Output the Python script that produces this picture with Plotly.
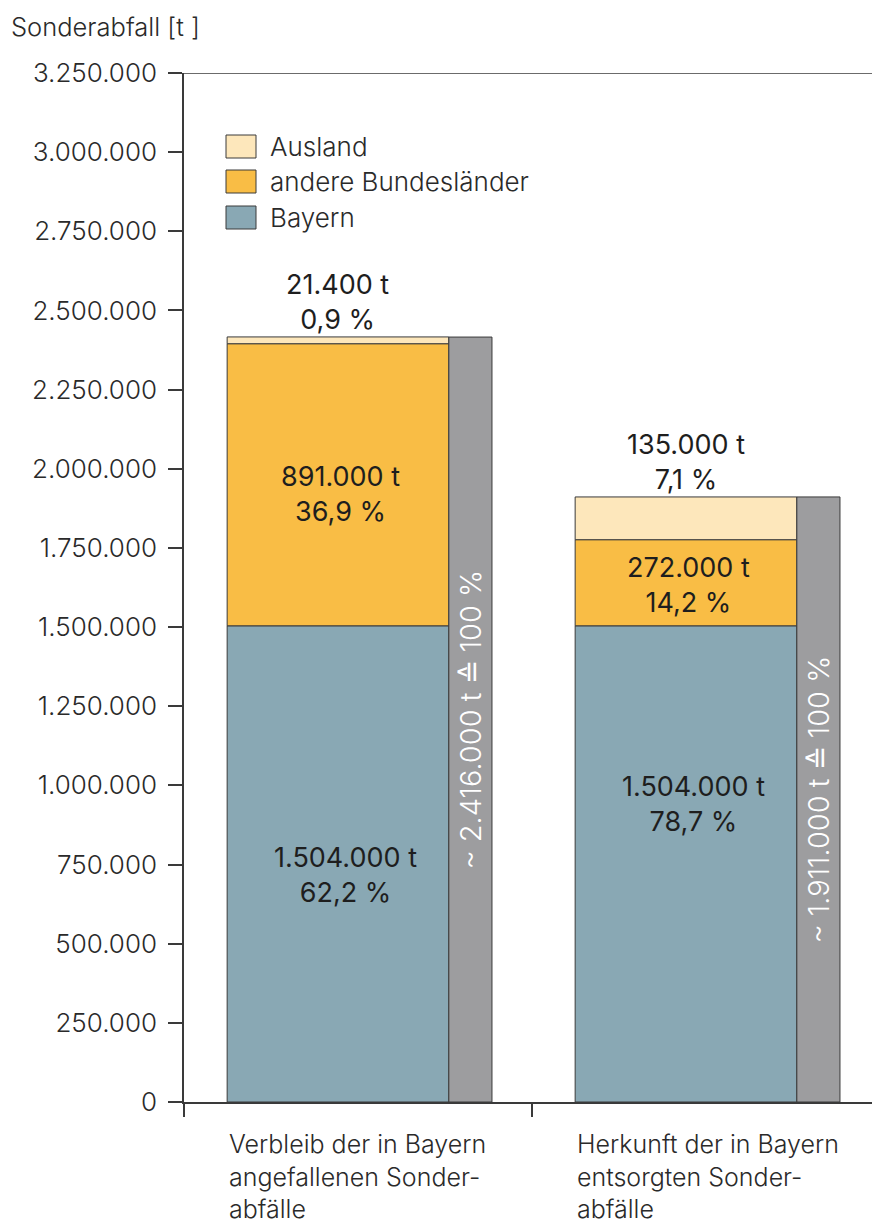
import plotly.graph_objects as go

# ---------------- data ----------------
categories = ["Verbleib der in Bayern<br>angefallenen Sonder-<br>abfälle",
              "Herkunft der in Bayern<br>entsorgten Sonder-<br>abfälle"]
series_names = ["Bayern", "andere Bundesländer", "Ausland"]
bayern = [1504000, 1504000]
andere = [891000, 272000]
ausland = [21400, 135000]
totals = [2416000, 1911000]
y_ticks = list(range(0, 3250001, 250000))

# ---------------- style ----------------
colors = ["#89a8b4", "#f9bd45", "#fde7bb"]
total_color = "#9d9d9f"
edge = "#3a3a3a"
FONT = "Inter"
LIGHT = 300
stack_offset, stack_width = -0.376, 0.637
total_offset, total_width = 0.261, 0.124
bayern_yshift = [-11, 60]
andere_yshift = [-9, -2]

# page body has an 8px default margin -> figure is placed at (8, 8)
ML, MT, PW, PH = 176, 65, 696, 1029


def fmt_int(v):
    return f"{v:,}".replace(",", ".")


def fmt_pct(p):
    return f"{p:.1f}".replace(".", ",") + " %"


series = [bayern, andere, ausland]
stack_sum = [sum(s[i] for s in series) for i in range(len(categories))]

fig = go.Figure()
base = [0] * len(categories)
for name, vals, col in zip(series_names, series, colors):
    fig.add_trace(go.Bar(
        x=categories, y=vals, base=list(base), name=name,
        offset=stack_offset, width=stack_width,
        marker=dict(color=col, line=dict(color=edge, width=1)),
        hoverinfo="skip", showlegend=False))
    base = [b + v for b, v in zip(base, vals)]

fig.add_trace(go.Bar(
    x=categories, y=totals, base=[0] * len(categories), name="gesamt",
    offset=total_offset, width=total_width,
    marker=dict(color=total_color, line=dict(color=edge, width=1)),
    text=[f"~ {fmt_int(t)} t \u2259 100 %" for t in totals],
    textposition="inside", insidetextanchor="middle", textangle=-90,
    textfont=dict(family=FONT, size=29, color="white", weight=LIGHT),
    constraintext="none",
    hoverinfo="skip", showlegend=False))

annotations = []
center_shift = stack_offset + stack_width / 2
label_font = dict(family=FONT, size=27, color="#1e1e1e")
for i, cat in enumerate(categories):
    xc = i + center_shift
    annotations.append(dict(
        x=xc, y=bayern[i] / 2, xref="x", yref="y", xshift=8,
        yshift=bayern_yshift[i],
        text=f"{fmt_int(bayern[i])} t<br>{fmt_pct(100 * bayern[i] / stack_sum[i])}",
        showarrow=False, font=label_font, align="center"))
    annotations.append(dict(
        x=xc, y=bayern[i] + andere[i] / 2, xref="x", yref="y", xshift=3,
        yshift=andere_yshift[i],
        text=f"{fmt_int(andere[i])} t<br>{fmt_pct(100 * andere[i] / stack_sum[i])}",
        showarrow=False, font=label_font, align="center"))
    annotations.append(dict(
        x=xc, y=stack_sum[i], xref="x", yref="y", yanchor="bottom", yshift=-1,
        text=f"{fmt_int(ausland[i])} t<br>{fmt_pct(100 * ausland[i] / stack_sum[i])}",
        showarrow=False, font=label_font, align="center"))
    annotations.append(dict(
        x=i + stack_offset, y=0, xref="x", yref="y", xanchor="left",
        yanchor="top", yshift=-25, align="left",
        text=cat, showarrow=False,
        font=dict(family=FONT, size=25, color="#2a2a2a", weight=LIGHT)))

# axis title (top-left of the page)
annotations.append(dict(
    x=(1 - ML) / PW, y=(MT + PH - 1) / PH, xref="paper", yref="paper",
    text="Sonderabfall [t ]", showarrow=False, xanchor="left", yanchor="top",
    font=dict(family=FONT, size=25.5, color="#2a2a2a", weight=LIGHT)))

# manual legend (Ausland, andere, Bayern from top)
shapes = []
leg_x0, leg_w, leg_h = 218, 30, 23
leg_tops = [127, 162, 198]
for k, idx in enumerate([2, 1, 0]):
    top = leg_tops[k]
    shapes.append(dict(type="rect", xref="paper", yref="paper",
                       x0=(leg_x0 - ML) / PW, x1=(leg_x0 + leg_w - ML) / PW,
                       y0=(MT + PH - top) / PH, y1=(MT + PH - top - leg_h) / PH,
                       fillcolor=colors[idx], line=dict(color=edge, width=1)))
    annotations.append(dict(
        x=(260 - ML) / PW, y=(MT + PH - top - leg_h / 2) / PH,
        xref="paper", yref="paper", xanchor="left", yanchor="middle",
        text=series_names[idx], showarrow=False,
        font=dict(family=FONT, size=26, color="#2a2a2a", weight=LIGHT)))

# top line at axis max
shapes.append(dict(type="line", xref="paper", yref="y", x0=0, x1=1,
                   y0=y_ticks[-1], y1=y_ticks[-1],
                   line=dict(color=edge, width=1.5)))

fig.update_layout(
    width=ML + PW, height=1217,
    margin=dict(l=ML, r=0, t=MT, b=1217 - MT - PH, pad=0),
    paper_bgcolor="white", plot_bgcolor="white",
    barmode="overlay", separators=",.",
    showlegend=False,
    annotations=annotations, shapes=shapes,
    font=dict(family=FONT, size=22, color="#2a2a2a"),
    xaxis=dict(type="category", range=[-0.5, 1.5], tickson="boundaries",
               ticks="outside", ticklen=13, tickcolor=edge, tickwidth=1.5,
               showticklabels=False, showline=True, linecolor=edge,
               linewidth=1.5, showgrid=False, zeroline=False, fixedrange=True),
    yaxis=dict(range=[0, y_ticks[-1]], tickvals=y_ticks, tickformat=",d",
               ticks="outside", ticklen=14, tickcolor=edge, tickwidth=1.5,
               showline=True, linecolor=edge, linewidth=1.5, showgrid=False,
               zeroline=False, ticklabelstandoff=6,
               tickfont=dict(family=FONT, size=26, color="#2a2a2a", weight=LIGHT)),
)

fig.write_html("out.html")
